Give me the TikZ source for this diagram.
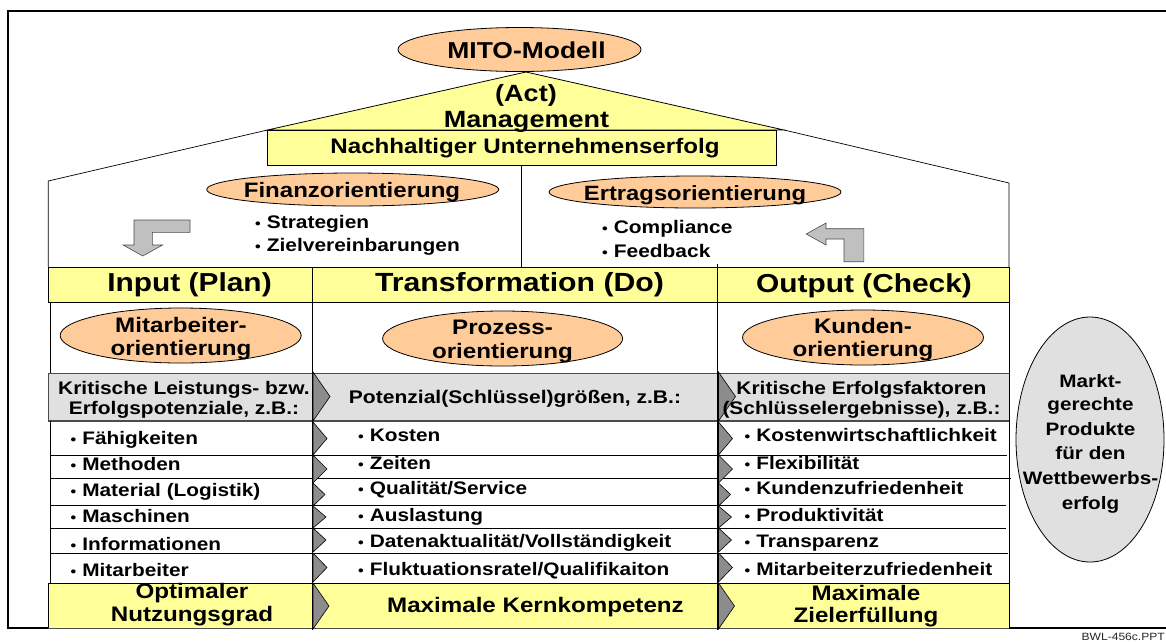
\documentclass[tikz,border=0pt]{standalone}
\usepackage{fontspec}
\setmainfont[FakeStretch=1.15]{Liberation Sans}
\usetikzlibrary{shapes.geometric}
\definecolor{yel}{HTML}{FFFF99}
\definecolor{ora}{HTML}{FFCC99}
\definecolor{gry}{HTML}{E0E0E0}
\definecolor{chev}{HTML}{8C8C8C}
\definecolor{larrow}{HTML}{C0C0C0}
\newcommand{\fsz}[1]{\fontsize{#1}{#1}\selectfont\bfseries\rule[-.25em]{0pt}{1.22em}}
\newcommand{\bul}{{\fontsize{14}{14}\selectfont\bfseries\textbullet}\hspace{6pt}}
\tikzset{
  oval/.style={ellipse,draw=black,fill=ora,line width=0.8pt,inner sep=0pt,minimum width=2*#1},
  txt/.style={inner sep=0pt,align=center,anchor=center},
  itemtxt/.style={inner sep=0pt,anchor=west},
  rule/.style={draw=black,line width=0.8pt},
  chevron/.style={draw=black,fill=chev,line width=0.6pt,line join=miter},
  bentarrow/.style={draw=black!70,fill=larrow,line width=0.6pt}
}
\begin{document}
\begin{tikzpicture}[x=1pt,y=-1pt]
\useasboundingbox (0,0) rectangle (1166,641);
\fill[white] (0,0) rectangle (1166,641);
% frame
\draw[line width=2pt,line cap=rect] (1166,10.5) -- (8,10.5) -- (8,628) -- (48,628);
\draw[line width=2pt] (1009,627.5) -- (1166,627.5);
% house outline
\draw[line width=0.7pt] (48.2,267) -- (48.2,181) -- (267.5,130);
\draw[line width=0.7pt] (784,130) -- (1009,183) -- (1009,267);
\draw[rule] (521,165) -- (521,267);
% roof
\filldraw[fill=yel,draw=black,line width=0.8pt] (267.5,130) -- (526,72) -- (784,130) -- cycle;
\draw[rule,fill=yel] (267.5,130.5) rectangle (776.5,165);
% header
\fill[yel] (48,267) rectangle (1009,302);
\draw[line width=1.2pt] (48,267.5) -- (1009,267.5);
\draw[rule] (48,302) -- (1009,302);
\draw[rule] (48,267) -- (48,302) (1009,267) -- (1009,302);
% grey row
\fill[gry] (48,373) rectangle (1009,421);
\draw[line width=0.8pt,draw=black!70] (48,373) -- (1009,373) -- (1009,421);
\draw[line width=0.8pt,draw=black!70] (48,373) -- (48,421);
\draw[line width=1.5pt,draw=black!70] (48,421) -- (1009,421);
% bottom
\fill[yel] (48,583) rectangle (1009,628);
\draw[line width=0.8pt] (48,583) -- (1009,583) -- (1009,628);
\draw[line width=1pt,draw=black!70] (48,628) -- (1009,628);
% walls
\draw[line width=0.9pt] (50,302) -- (50,373) (50,421) -- (50,583);
\draw[line width=0.8pt] (1009,302) -- (1009,583);
\draw[line width=0.9pt] (48,583) -- (48,628);
% rows
\draw[rule] (51,455.5) -- (1007,455.5);
\draw[rule] (51,478.5) -- (1011,478.5);
\draw[rule] (50,505) -- (1006,505);
\draw[rule] (50,528.5) -- (1006,528.5);
\draw[rule] (50,553) -- (1008,553);
% dividers
\draw[line width=1.2pt] (312.3,267) -- (312.3,630);
\draw[line width=1.2pt] (717.5,264) -- (717.5,630);
% chevrons
\foreach \ya/\yb/\dx in {372/421/17,422/455/14,455/483/14,483/506/12,506/528/13,528/552/13,553/582/14,583/629/16}{
  \pgfmathsetmacro{\ym}{(\ya+\yb)/2}
  \filldraw[chevron] (313,\ya) -- (313+\dx,\ym) -- (313,\yb) -- cycle;
  \filldraw[chevron] (718.5,\ya) -- (718.5+\dx,\ym) -- (718.5,\yb) -- cycle;
}
% ovals
\node[oval=121.5pt,minimum height=44pt] (mito) at (519.5,49.5) {};
\node[oval=146pt,minimum height=33pt] (fin) at (352.7,189.5) {};
\node[oval=146pt,minimum height=32pt] (ert) at (695,192) {};
\node[oval=120.5pt,minimum height=55pt] (mit) at (180.7,335.5) {};
\node[oval=120pt,minimum height=55pt] (pro) at (502.6,338.5) {};
\node[oval=120.5pt,minimum height=55pt] (kun) at (863,337.5) {};
\node[ellipse,draw=black,fill=gry,line width=0.8pt,inner sep=0pt,minimum width=148pt,minimum height=245pt] (markt) at (1090,439.5) {};
% bent arrows
\filldraw[bentarrow] (134,220) -- (190,220) -- (190,232.3) -- (152.3,232.3) -- (152.3,245) -- (162.6,245) -- (142.7,256) -- (123.2,245) -- (134,245) -- cycle;
\filldraw[bentarrow] (863.8,228.7) -- (863.8,261.7) -- (844,261.7) -- (844,239) -- (826,239) -- (826,245) -- (806.2,234) -- (826,223) -- (826,228.7) -- cycle;
% texts
\node[txt] (t1) at (526.5,50) {\fsz{23}MITO-Modell};
\node[txt] (t2) at (526,93.5) {\fsz{23.5}(Act)};
\node[txt] (t3) at (526.5,119.5) {\fsz{23.5}Management};
\node[txt] (t4) at (525,146) {\fsz{21}Nachhaltiger Unternehmenserfolg};
\node[txt] (t5) at (352,189.6) {\fsz{20.9}Finanzorientierung};
\node[txt] (t6) at (695,193) {\fsz{20.7}Ertragsorientierung};
\node[itemtxt] (s1) at (255,222) {\bul\fsz{18.2}Strategien};
\node[itemtxt] (s2) at (255,245) {\bul\fsz{18.2}Zielvereinbarungen};
\node[itemtxt] (c1) at (602,227.3) {\bul\fsz{18.2}Compliance};
\node[itemtxt] (c2) at (602,251) {\bul\fsz{18.2}Feedback};
\node[txt] (h1) at (189.5,282.5) {\fsz{26}Input (Plan)};
\node[txt] (h2) at (519.5,282.5) {\fsz{26.3}Transformation (Do)};
\node[txt] (h3) at (864,283) {\fsz{26}Output (Check)};
\node[txt] (m1) at (181,325) {\fsz{21}Mitarbeiter-};
\node[txt] (m2) at (181,347.5) {\fsz{21}orientierung};
\node[txt] (p1) at (502.5,326.5) {\fsz{21}Prozess-};
\node[txt] (p2) at (502.5,350.5) {\fsz{21}orientierung};
\node[txt] (k1) at (863,326) {\fsz{21}Kunden-};
\node[txt] (k2) at (863,349) {\fsz{21}orientierung};
\node[txt] (g1) at (184,387.5) {\fsz{18.2}Kritische Leistungs- bzw.};
\node[txt] (g2) at (184,407.5) {\fsz{18.2}Erfolgspotenziale, z.B.:};
\node[txt] (g3) at (515,397) {\fsz{18.3}Potenzial(Schlüssel)größen, z.B.:};
\node[txt] (g4) at (861.5,387.5) {\fsz{18.2}Kritische Erfolgsfaktoren};
\node[txt] (g5) at (861.5,407.5) {\fsz{18.2}(Schlüsselergebnisse), z.B.:};
\foreach \n/\y/\t in {a/437.5/{Fähigkeiten},b/463.5/{Methoden},c/490/{Material (Logistik)},d/516/{Maschinen},e/543.5/{Informationen},f/569.5/{Mitarbeiter}}{
  \node[itemtxt] (l\n) at (70.5,\y) {\bul\fsz{18.1}\t};
}
\foreach \n/\y/\t in {a/435.2/{Kosten},b/462.5/{Zeiten},c/488/{Qualität/Service},d/515/{Auslastung},e/541/{Datenaktualität/Vollständigkeit},f/568.5/{Fluktuationsratel/Qualifikaiton}}{
  \node[itemtxt] (m\n) at (358,\y) {\bul\fsz{18.1}\t};
}
\foreach \n/\y/\t in {a/435.2/{Kostenwirtschaftlichkeit},b/462.5/{Flexibilität},c/488/{Kundenzufriedenheit},d/515/{Produktivität},e/541/{Transparenz},f/568.5/{Mitarbeiterzufriedenheit}}{
  \node[itemtxt] (r\n) at (744.5,\y) {\bul\fsz{18.1}\t};
}
\node[txt] (o1) at (192,591) {\fsz{21}Optimaler};
\node[txt] (o2) at (192,614) {\fsz{21}Nutzungsgrad};
\node[txt] (o3) at (535.5,605) {\fsz{21}Maximale Kernkompetenz};
\node[txt] (o4) at (866,592.5) {\fsz{21}Maximale};
\node[txt] (o5) at (866,615) {\fsz{21}Zielerfüllung};
\foreach \n/\y/\t in {a/381/{Markt-},b/404.5/{gerechte},c/429.5/{Produkte},d/453.5/{für den},e/478.5/{Wettbewerbs-},f/503/{erfolg}}{
  \node[txt] (q\n) at (1090.5,\y) {\fsz{18}\t};
}
\node[anchor=east,inner sep=0pt,text=black!85] (foot) at (1165,636.5) {\fontsize{10.5}{10.5}\selectfont BWL-456c.PPT};
\end{tikzpicture}
\end{document}
